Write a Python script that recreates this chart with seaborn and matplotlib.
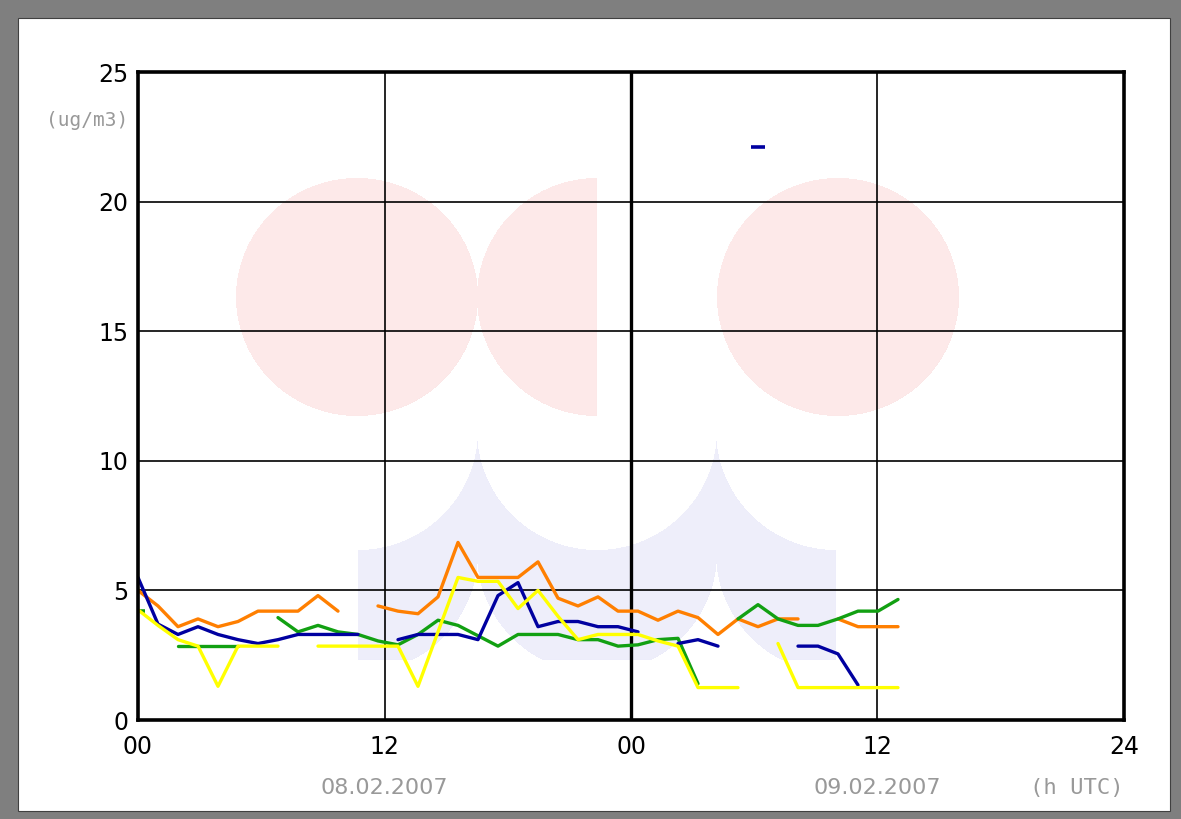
import numpy as np
import pandas as pd
import matplotlib
matplotlib.use("Agg")
import matplotlib.pyplot as plt
from matplotlib.patches import Rectangle
import seaborn as sns

nan = np.nan

# hourly values (ug/m3) from 08.02.2007 00 UTC, one entry per time step
orange = [5.0, 4.4, 3.6, 3.9, 3.6, 3.8, 4.2, 4.2, 4.2, 4.8, 4.2, nan,
          4.4, 4.2, 4.1, 4.75, 6.85, 5.5, 5.5, 5.5, 6.1, 4.7, 4.4, 4.75,
          4.2, 4.2, 3.85, 4.2, 3.95, 3.3, 3.9, 3.6, 3.9, 3.9, nan,
          3.9, 3.6, 3.6, 3.6]
green = [4.2, nan, 2.85, 2.85, 2.85, 2.85, nan, 3.95, 3.4, 3.65, 3.4, 3.3,
         3.05, 2.9, 3.3, 3.85, 3.65, 3.25, 2.85, 3.3, 3.3, 3.3, 3.1, 3.1,
         2.85, 2.9, 3.1, 3.15, 1.4, nan, 3.9, 4.45, 3.9, 3.65, 3.65,
         3.9, 4.2, 4.2, 4.65]
blue = [5.5, 3.7, 3.3, 3.6, 3.3, 3.1, 2.95, 3.1, 3.3, 3.3, 3.3, 3.3, nan,
        3.1, 3.3, 3.3, 3.3, 3.1, 4.8, 5.3, 3.6, 3.8, 3.8, 3.6, 3.6, 3.4,
        nan, 2.95, 3.1, 2.85, nan, 22.1, nan, 2.85, 2.85, 2.55, 1.35,
        nan, nan]
yellow = [4.25, 3.65, 3.1, 2.85, 1.3, 2.85, 2.85, 2.85, nan, 2.85, 2.85,
          2.85, 2.85, 2.85, 1.3, 3.4, 5.5, 5.35, 5.35, 4.3, 5.0, 4.0, 3.1,
          3.3, 3.3, 3.3, 3.05, 2.85, 1.25, 1.25, 1.25, nan, 2.95, 1.25,
          1.25, 1.25, 1.25, 1.25, 1.25]

series = [("orange", orange, "#ff7f00"),
          ("green", green, "#12a012"),
          ("blue", blue, "#0000a0"),
          ("yellow", yellow, "#ffff00")]

x_labels = ["00", "12", "00", "12", "24"]
dates = ["08.02.2007", "09.02.2007"]
x_max = 49.3  # axis spans a bit more than 48 time steps
y_ticks = [0, 5, 10, 15, 20, 25]

sns.set_theme(style="white")
plt.rcParams["font.family"] = ["DejaVu Sans"]

fig = plt.figure(figsize=(11.81, 8.19), dpi=100, facecolor="#7f7f7f")
fig.patches.append(Rectangle((18 / 1181, 8 / 819), 1152 / 1181, 793 / 819,
                             transform=fig.transFigure, facecolor="white",
                             edgecolor="#404040", lw=0.8, zorder=-5))
ax = fig.add_axes([138 / 1181, 99 / 819, 986 / 1181, 648 / 819])
ax.set_facecolor("white")

# faint logo in the background
H, W = 648, 986
jj, ii = np.meshgrid(np.arange(W) + 0.5, np.arange(H) + 0.5)
px = 138 + jj
py = 72 + ii


def inside(cx, cy, rx, ry=None):
    ry = rx if ry is None else ry
    return ((px - cx) / rx) ** 2 + ((py - cy) / ry) ** 2 <= 1


pink = inside(357, 297, 121, 119) | (inside(597, 297, 120, 119) & (px <= 597)) \
    | inside(838, 297, 121, 119)
top = inside(358, 430, 120) | inside(597, 430, 120) | inside(836, 430, 120)
bot = inside(358, 553, 120) | inside(597, 553, 120) | inside(836, 553, 120)
lav = (px >= 358) & (px <= 836) & (py >= 430) & (py <= 660) & ~top & ((py < 553) | bot)
img = np.zeros((H, W, 4))
img[pink] = [253 / 255, 233 / 255, 233 / 255, 1]
img[lav] = [238 / 255, 238 / 255, 251 / 255, 1]
ax.imshow(img, extent=(0, x_max, 0, 25), origin="upper", aspect="auto",
          interpolation="bilinear", zorder=0)

steps = np.arange(len(orange))
for name, vals, color in series:
    v = np.array(vals, dtype=float)
    d = pd.DataFrame({"hour": steps, "value": v, "seg": np.cumsum(np.isnan(v))}).dropna()
    sns.lineplot(data=d, x="hour", y="value", units="seg", estimator=None,
                 color=color, lw=2.4, ax=ax, sort=False)
    iso = d.groupby("seg").filter(lambda g: len(g) == 1)
    if len(iso):
        sns.scatterplot(data=iso, x="hour", y="value", marker="_", s=110,
                        color=color, edgecolor=color, linewidth=2.6, ax=ax)

ticks = np.linspace(0, x_max, 5)
ax.set_xlim(0, x_max)
ax.set_ylim(0, 25)
ax.set_xticks(ticks)
ax.set_xticklabels(x_labels)
ax.set_yticks(y_ticks)
ax.set_xlabel("")
ax.set_ylabel("")
ax.grid(True, color="black", lw=1.2)
ax.set_axisbelow(True)
ax.axvline(ticks[2], color="black", lw=2.4, zorder=1)
ax.tick_params(axis="both", length=0, labelsize=17, colors="black")
ax.tick_params(axis="x", pad=11)
ax.tick_params(axis="y", pad=7)
for s in ax.spines.values():
    s.set_visible(True)
    s.set_color("black")
    s.set_linewidth(2.6)

tr = ax.get_xaxis_transform()
ax.text(ticks[1], -0.105, dates[0], transform=tr, ha="center", va="center",
        color="#999999", fontsize=16)
ax.text(ticks[3], -0.105, dates[1], transform=tr, ha="center", va="center",
        color="#999999", fontsize=16)
ax.text(ticks[4], -0.105, "(h UTC)", transform=tr, ha="right", va="center",
        color="#999999", fontsize=16, family="DejaVu Sans Mono")
fig.text(128 / 1181, 1 - 121 / 819, "(ug/m3)", ha="right", va="center",
         color="#999999", fontsize=14, family="DejaVu Sans Mono")

fig.savefig("out.png", dpi=100, facecolor=fig.get_facecolor())
